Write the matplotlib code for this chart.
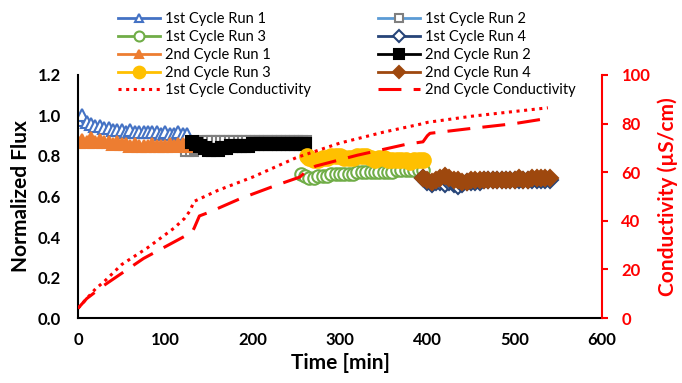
import matplotlib.pyplot as plt

plt.rcParams['font.family'] = ['Lato', 'DejaVu Sans']

# --- flux data (normalized), time in minutes ---
c1_run1_t = [0, 5, 10, 15, 20, 25, 30, 35, 40, 45, 50, 55, 60, 65, 70, 75, 80, 85, 90, 95, 100, 105, 110, 115, 120, 125]
c1_run1 = [0.98, 1.00, 0.97, 0.96, 0.95, 0.95, 0.94, 0.94, 0.93, 0.93, 0.93, 0.92, 0.93, 0.92, 0.92, 0.92, 0.92, 0.92, 0.92, 0.91, 0.92, 0.91, 0.91, 0.92, 0.91, 0.91]

c2_run1_t = [0, 5, 10, 15, 20, 25, 30, 35, 40, 45, 50, 55, 60, 65, 70, 75, 80, 85, 90, 95, 100, 105, 110, 115, 120, 125]
c2_run1 = [0.87, 0.88, 0.87, 0.89, 0.87, 0.88, 0.87, 0.87, 0.86, 0.87, 0.86, 0.86, 0.85, 0.86, 0.85, 0.85, 0.85, 0.86, 0.85, 0.85, 0.85, 0.86, 0.85, 0.86, 0.86, 0.85]

c1_run2_t = [125, 130, 135, 140, 145, 150, 155, 160, 165, 170, 175, 180, 185, 190, 195, 200, 205, 210, 215, 220, 225, 230, 235, 240, 245, 250, 255, 260]
c1_run2 = [0.83, 0.83, 0.84, 0.86, 0.87, 0.87, 0.87, 0.87, 0.87, 0.87, 0.87, 0.87, 0.87, 0.87, 0.87, 0.87, 0.87, 0.87, 0.87, 0.87, 0.87, 0.87, 0.87, 0.87, 0.87, 0.87, 0.87, 0.87]

c2_run2_t = [130, 135, 140, 145, 150, 155, 160, 165, 170, 175, 180, 185, 190, 195, 200, 205, 210, 215, 220, 225, 230, 235, 240, 245, 250, 255, 260]
c2_run2 = [0.87, 0.86, 0.85, 0.84, 0.83, 0.83, 0.83, 0.84, 0.84, 0.85, 0.85, 0.85, 0.85, 0.85, 0.86, 0.86, 0.86, 0.86, 0.86, 0.86, 0.86, 0.86, 0.86, 0.86, 0.86, 0.86, 0.86]

c1_run3_t = [255, 260, 265, 270, 275, 280, 285, 290, 295, 300, 305, 310, 315, 320, 325, 330, 335, 340, 345, 350, 355, 360, 365, 370, 375, 380, 385, 390, 395]
c1_run3 = [0.71, 0.70, 0.69, 0.69, 0.70, 0.70, 0.70, 0.71, 0.71, 0.71, 0.71, 0.71, 0.71, 0.72, 0.72, 0.72, 0.72, 0.72, 0.72, 0.72, 0.72, 0.72, 0.73, 0.73, 0.73, 0.73, 0.73, 0.73, 0.73]

c2_run3_t = [262, 265, 270, 275, 280, 285, 290, 295, 300, 305, 310, 315, 320, 325, 330, 335, 340, 345, 350, 355, 360, 365, 370, 375, 380, 385, 390, 395]
c2_run3 = [0.80, 0.79, 0.78, 0.78, 0.79, 0.79, 0.80, 0.80, 0.80, 0.79, 0.79, 0.79, 0.80, 0.80, 0.80, 0.79, 0.78, 0.79, 0.79, 0.78, 0.78, 0.78, 0.78, 0.78, 0.77, 0.78, 0.78, 0.78]

c1_run4_t = [395, 400, 405, 410, 415, 420, 425, 430, 435, 440, 445, 450, 455, 460, 465, 470, 475, 480, 485, 490, 495, 500, 505, 510, 515, 520, 525, 530, 535, 540]
c1_run4 = [0.69, 0.67, 0.66, 0.67, 0.67, 0.66, 0.67, 0.66, 0.65, 0.66, 0.67, 0.67, 0.67, 0.67, 0.68, 0.68, 0.68, 0.68, 0.68, 0.68, 0.68, 0.68, 0.68, 0.68, 0.68, 0.68, 0.68, 0.68, 0.68, 0.68]

c2_run4_t = [395, 400, 405, 410, 415, 420, 425, 430, 435, 440, 445, 450, 455, 460, 465, 470, 475, 480, 485, 490, 495, 500, 505, 510, 515, 520, 525, 530, 535, 540]
c2_run4 = [0.69, 0.68, 0.67, 0.68, 0.69, 0.70, 0.69, 0.68, 0.68, 0.67, 0.67, 0.68, 0.68, 0.68, 0.68, 0.68, 0.68, 0.68, 0.68, 0.68, 0.68, 0.68, 0.69, 0.68, 0.68, 0.69, 0.69, 0.69, 0.69, 0.69]

# --- conductivity (uS/cm) ---
cond1_t = [0, 10, 20, 30, 50, 80, 110, 122, 128, 133, 160, 200, 250, 300, 350, 395, 400, 450, 500, 538]
cond1 = [4, 8, 12, 15, 22, 29, 37, 41, 44, 48, 52.5, 58, 66, 72, 76.5, 80, 80.5, 83, 85, 86.5]

cond2_t = [0, 10, 30, 75, 124, 130, 133, 139, 150, 185, 226, 254, 260, 272, 320, 376, 395, 400, 403, 450, 500, 535]
cond2 = [4, 8, 13.5, 24.5, 34, 35, 37, 42, 43.5, 49, 54.5, 58, 60, 62.5, 67, 71.5, 72.5, 75, 76, 78, 80, 82]

RED = '#FF0000'

fig = plt.figure(figsize=(6.82, 3.83), dpi=100)
ax = fig.add_axes([0.1144, 0.1697, 0.7683, 0.6345])
ax2 = ax.twinx()

# series: (label, t, y, line color, marker, edge, face, size)
series = [
    ('1st Cycle Run 1', c1_run1_t, c1_run1, '#4472C4', '^', '#4472C4', 'white', 8),
    ('1st Cycle Run 2', c1_run2_t, c1_run2, '#5B9BD5', 's', '#7F7F7F', 'white', 8),
    ('1st Cycle Run 3', c1_run3_t, c1_run3, '#70AD47', 'o', '#70AD47', 'white', 9),
    ('1st Cycle Run 4', c1_run4_t, c1_run4, '#264478', 'D', '#264478', 'white', 8),
    ('2nd Cycle Run 1', c2_run1_t, c2_run1, '#ED7D31', '^', '#ED7D31', '#ED7D31', 8),
    ('2nd Cycle Run 2', c2_run2_t, c2_run2, '#000000', 's', '#000000', '#000000', 8.5),
    ('2nd Cycle Run 3', c2_run3_t, c2_run3, '#FFC000', 'o', '#FFC000', '#FFC000', 10.5),
    ('2nd Cycle Run 4', c2_run4_t, c2_run4, '#9E480E', 'D', '#9E480E', '#9E480E', 8),
]
handles = {}
for lab, t, y, lc, mk, ec, fc, ms in series:
    h, = ax.plot(t, y, color=lc, lw=2, marker=mk, markeredgecolor=ec,
                 markerfacecolor=fc, markersize=ms, markeredgewidth=1.5, label=lab)
    handles[lab] = h

h1, = ax2.plot(cond1_t, cond1, color=RED, lw=2.2, linestyle=(0, (1, 1.5)),
               label='1st Cycle Conductivity')
h2, = ax2.plot(cond2_t, cond2, color=RED, lw=2.2, linestyle=(0, (7.5, 4)),
               label='2nd Cycle Conductivity')
handles['1st Cycle Conductivity'] = h1
handles['2nd Cycle Conductivity'] = h2

# --- axes styling (Excel look) ---
ax.set_xlim(0, 600)
ax.set_ylim(0, 1.2)
ax2.set_ylim(0, 100)
ax.set_xticks([0, 100, 200, 300, 400, 500, 600])
ax.set_yticks([0, 0.2, 0.4, 0.6, 0.8, 1.0, 1.2])
ax.set_yticklabels(['0.0', '0.2', '0.4', '0.6', '0.8', '1.0', '1.2'])
ax2.set_yticks([0, 20, 40, 60, 80, 100])

for a in (ax, ax2):
    a.spines['top'].set_visible(False)
ax.spines['right'].set_visible(False)
ax2.spines['left'].set_visible(False)
ax2.spines['bottom'].set_visible(False)
ax.spines['left'].set_linewidth(1.5)
ax.spines['bottom'].set_linewidth(1.5)
ax2.spines['right'].set_color(RED)
ax2.spines['right'].set_linewidth(1.5)

ax.tick_params(axis='both', length=0, labelsize=12)
ax.tick_params(axis='y', pad=12)
ax.tick_params(axis='x', pad=10)
ax2.tick_params(axis='y', colors=RED, length=4, width=1.5, direction='out',
                labelsize=12, pad=10)
for lbl in ax.get_xticklabels() + ax.get_yticklabels() + ax2.get_yticklabels():
    lbl.set_fontweight('bold')

ax.set_xlabel('Time [min]', fontsize=15, fontweight='bold', labelpad=4)
ax.set_ylabel('Normalized Flux', fontsize=15, fontweight='bold', labelpad=5)
ax2.set_ylabel('Conductivity (µS/cm)', fontsize=15, fontweight='bold', color=RED, labelpad=5)

# --- two legend columns placed above the plot ---
col1 = ['1st Cycle Run 1', '1st Cycle Run 3', '2nd Cycle Run 1', '2nd Cycle Run 3', '1st Cycle Conductivity']
col2 = ['1st Cycle Run 2', '1st Cycle Run 4', '2nd Cycle Run 2', '2nd Cycle Run 4', '2nd Cycle Conductivity']
for names, x0 in ((col1, 118 / 682), (col2, 378 / 682)):
    fig.legend([handles[n] for n in names], names, loc='upper left',
               bbox_to_anchor=(x0, 0.968), frameon=False, fontsize=10.5,
               handlelength=2.9, handletextpad=0.35, labelspacing=0.26,
               markerscale=0.8, borderpad=0, borderaxespad=0)

fig.savefig('out.png', dpi=100)
